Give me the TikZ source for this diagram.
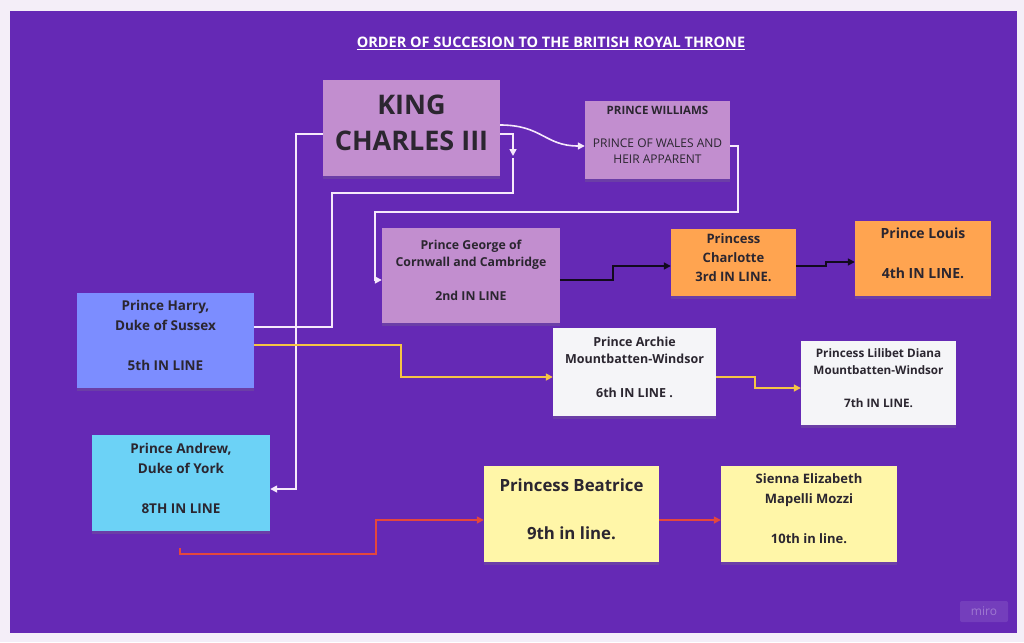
\documentclass[tikz,border=0pt]{standalone}
\usepackage{fontspec}
\setmainfont{Open Sans}
\usetikzlibrary{arrows.meta}
\usetikzlibrary{shadows}
\definecolor{bgpurple}{HTML}{6529B5}
\definecolor{frame}{HTML}{F4EEF8}
\definecolor{lavender}{HTML}{C28ECF}
\definecolor{orangebox}{HTML}{FFA450}
\definecolor{bluebox}{HTML}{7C8DFF}
\definecolor{whitebox}{HTML}{F5F5F8}
\definecolor{cyanbox}{HTML}{6CD2F6}
\definecolor{yellowbox}{HTML}{FFF6A8}
\definecolor{txtdark}{HTML}{2B2630}
\definecolor{wlink}{HTML}{F6E9FB}
\definecolor{ylink}{HTML}{F6C444}
\definecolor{rlink}{HTML}{E4473D}
\definecolor{klink}{HTML}{120A1E}

\begin{document}
\begin{tikzpicture}[x=1pt, y=-1pt,
    box/.style={align=center, inner sep=0pt, text=txtdark, text depth=10pt,
      drop shadow={shadow xshift=0pt, shadow yshift=-3pt, opacity=0.25}},
    link/.style={line width=1.6pt, -{Triangle[length=7pt,width=7pt]}},
    plain/.style={line width=1.6pt}]
        \useasboundingbox (0,0) rectangle (1024,642);
        \fill [frame] (0,0) rectangle (1024,642);
        \fill [bgpurple] (10,11) rectangle (1017,633);
        \node [white, font=\bfseries\fontsize{14.5}{16}\selectfont] (title) at (551,43) {\underline{ORDER OF SUCCESION TO THE BRITISH ROYAL THRONE}};
        % top row
        \node [box, fill=lavender, minimum width=177pt, minimum height=96pt, font=\bfseries\fontsize{27}{36}\selectfont] (king) at (411.5,128) {KING\\CHARLES III};
        \node [box, fill=lavender, minimum width=145pt, minimum height=78pt, font=\fontsize{12}{16.5}\selectfont] (will) at (657.5,140) {\textbf{\fontsize{11.5}{16.5}\selectfont PRINCE WILLIAMS}\\[16.5pt]PRINCE OF WALES AND\\HEIR APPARENT};
        \node [box, fill=lavender, minimum width=178pt, minimum height=95pt, font=\bfseries\fontsize{12.3}{17}\selectfont] (george) at (471,275.5) {Prince George of\\Cornwall and Cambridge\\[17pt]2nd IN LINE};
        \node [box, fill=orangebox, minimum width=125pt, minimum height=67pt, font=\bfseries\fontsize{13}{19}\selectfont] (charlotte) at (733.5,262.5) {Princess\\Charlotte\\3rd IN LINE.};
        \node [box, fill=orangebox, minimum width=136pt, minimum height=75pt, font=\bfseries\fontsize{14}{20}\selectfont] (louis) at (923,258.5) {Prince Louis\\[20pt]4th IN LINE.};
        % Harry's line
        \node [box, fill=bluebox, minimum width=177pt, minimum height=95pt, font=\bfseries\fontsize{13.5}{20}\selectfont] (harry) at (165.5,340.5) {Prince Harry,\\Duke of Sussex\\[20pt]5th IN LINE};
        \node [box, fill=whitebox, minimum width=163pt, minimum height=88pt, font=\bfseries\fontsize{12.5}{17}\selectfont] (archie) at (634.5,372) {Prince Archie\\Mountbatten-Windsor\\[17pt]6th IN LINE .};
        \node [box, fill=whitebox, minimum width=155pt, minimum height=84pt, font=\bfseries\fontsize{11.7}{16.5}\selectfont] (lilibet) at (878.5,383) {Princess Lilibet Diana\\Mountbatten-Windsor\\[16.5pt]7th IN LINE.};
        % Andrew's line
        \node [box, fill=cyanbox, minimum width=178pt, minimum height=96pt, font=\bfseries\fontsize{13.5}{20}\selectfont] (andrew) at (181,483) {Prince Andrew,\\Duke of York\\[20pt]8TH IN LINE};
        \node [box, fill=yellowbox, minimum width=175pt, minimum height=96pt, font=\bfseries\fontsize{16.8}{24}\selectfont] (beatrice) at (571.5,514) {Princess Beatrice\\[24pt]9th in line.};
        \node [box, fill=yellowbox, minimum width=176pt, minimum height=96pt, font=\bfseries\fontsize{13}{20}\selectfont] (sienna) at (809,514) {Sienna Elizabeth\\Mapelli Mozzi\\[20pt]10th in line.};
        \node [fill=white, fill opacity=0.1, text opacity=0.3, text=white, rounded corners=2pt, minimum width=48pt, minimum height=21pt, font=\fontsize{12}{12}\selectfont] (miro) at (984,611.5) {miro};
        \coordinate (kdrop) at (513,156);
        \coordinate (redstart) at (180,548);
        % white connectors
        \draw [link, wlink] ([yshift=-6pt]king.west) -- ++(-27,0) |- ([yshift=-6pt]andrew.east);
        \draw [link, wlink] ([yshift=-6pt]king.east) -| (kdrop);
        \draw [plain, wlink] ([yshift=13.5pt]harry.east) -- ++(78,0) -- ++(0,-134) -| ([yshift=-2pt]kdrop);
        \draw [link, wlink] ([yshift=3pt]king.east) .. controls +(42,0) and +(-40,0) .. ([yshift=-6pt]will.west);
        \draw [link, wlink] ([yshift=-6pt]will.east) -- ++(8,0) -- ++(0,66) -- ++(-363,0) |- ([yshift=-4.5pt]george.west);
        % black connectors
        \draw [link, klink] ([yshift=-4.5pt]george.east) -- ++(53,0) |- ([yshift=-3.5pt]charlotte.west);
        \draw [link, klink] ([yshift=-3.5pt]charlotte.east) -- ++(30,0) |- ([yshift=-3.5pt]louis.west);
        % yellow connectors
        \draw [link, ylink] ([yshift=-4.5pt]harry.east) -- ++(147,0) |- ([yshift=-5pt]archie.west);
        \draw [link, ylink] ([yshift=-5pt]archie.east) -- ++(39,0) |- ([yshift=-5pt]lilibet.west);
        % red connectors
        \draw [link, rlink] (redstart) -- ++(0,6) -- ++(196,0) |- ([yshift=-6pt]beatrice.west);
        \draw [link, rlink] ([yshift=-6pt]beatrice.east) -- ([yshift=-6pt]sienna.west);
      \end{tikzpicture}
\end{document}
